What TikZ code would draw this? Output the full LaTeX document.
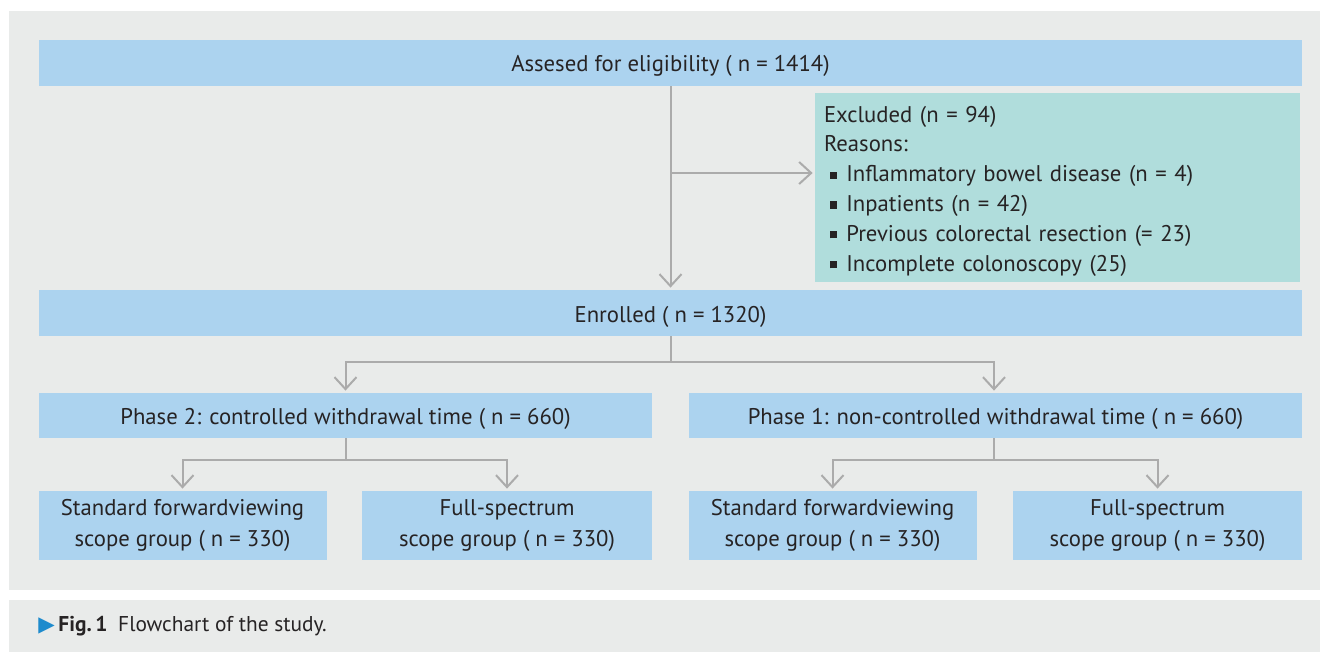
\documentclass[tikz,border=0pt]{standalone}
\usepackage{fontspec}
\setmainfont{PT Sans}
\newfontfamily\symfont{DejaVu Sans}
\usetikzlibrary{arrows.meta}
\definecolor{panelgray}{HTML}{E9EBEA}
\definecolor{boxblue}{HTML}{ACD3EF}
\definecolor{boxteal}{HTML}{B0DDDC}
\definecolor{linegray}{HTML}{ABABAB}
\definecolor{textdark}{HTML}{262324}
\definecolor{figblue}{HTML}{1E8BCD}
\newcommand{\bul}{\hspace*{3pt}\rule[0.12em]{0.32em}{0.32em}\hspace{0.4em}}
\tikzstyle{flowbox}=[
    fill=boxblue,
    inner sep=0pt,
    text=textdark,
    align=center,
    font=\fontsize{11.35}{15.5}\selectfont,
    execute at begin node={\rule{0pt}{11.5pt}},
]
\tikzstyle{flowarrow}=[
    draw=linegray,
    line width=1pt,
    -{Straight Barb[length=6pt,width=11pt]},
    shorten >=1pt,
]
\tikzstyle{flowline}=[draw=linegray, line width=1pt]

\begin{document}
\begin{tikzpicture}[x=0.5pt, y=-0.5pt]
        \useasboundingbox (0,0) rectangle (1320,652);
        \fill[panelgray] (9,11) rectangle (1320,590);
        \fill[panelgray] (9,600) rectangle (1320,652);
        % boxes
        \node[flowbox, minimum width=631.5pt, minimum height=23pt] (assessed) at (670.5,63) {Assesed for eligibility ( n = 1414)};
        \node[flowbox, fill=boxteal, align=left, text width=233.5pt, inner xsep=4.5pt, minimum height=94.5pt,
            font=\fontsize{11.35}{14.9}\selectfont] (excluded) at (1057.5,187.5) {Excluded (n = 94)\\
            Reasons:\\
            \bul Inflammatory bowel disease (n = 4)\\
            \bul Inpatients (n = 42)\\
            \bul Previous colorectal resection (= 23)\\
            \bul Incomplete colonoscopy (25)};
        \node[flowbox, minimum width=631.5pt, minimum height=23pt] (enrolled) at (670.5,313) {Enrolled ( n = 1320)};
        \node[flowbox, minimum width=306.5pt, minimum height=22.5pt] (phasetwo) at (345.5,415.5) {Phase 2: controlled withdrawal time ( n = 660)};
        \node[flowbox, minimum width=306.5pt, minimum height=22.5pt] (phaseone) at (995.5,415.5) {Phase 1: non-controlled withdrawal time ( n = 660)};
        \node[flowbox, minimum width=144pt, minimum height=34.5pt] (stdtwo) at (182.5,525.5) {Standard forwardviewing\\scope group ( n = 330)};
        \node[flowbox, minimum width=145pt, minimum height=34.5pt] (fulltwo) at (507,525.5) {Full-spectrum\\scope group ( n = 330)};
        \node[flowbox, minimum width=144pt, minimum height=34.5pt] (stdone) at (832.5,525.5) {Standard forwardviewing\\scope group ( n = 330)};
        \node[flowbox, minimum width=144.5pt, minimum height=34.5pt] (fullone) at (1157.5,525.5) {Full-spectrum\\scope group ( n = 330)};
        % connectors
        \coordinate (exclsplit) at (670.5,173);
        \coordinate (phsplit) at (670.5,362);
        \coordinate (twosplit) at (345.5,460);
        \coordinate (onesplit) at (994,460);
        \draw[flowarrow] (assessed) -- (enrolled);
        \draw[flowarrow] (exclsplit) -- (exclsplit -| excluded.west);
        \draw[flowline] (enrolled) -- (phsplit);
        \draw[flowarrow] (phsplit) -| (phasetwo);
        \draw[flowarrow] (phsplit) -| (onesplit |- phaseone.north);
        \draw[flowline] (onesplit |- phaseone.south) -- (onesplit);
        \draw[flowline] (phasetwo) -- (twosplit);
        \draw[flowarrow] (twosplit) -| (stdtwo);
        \draw[flowarrow] (twosplit) -| (fulltwo);
        \draw[flowarrow] (onesplit) -| (stdone);
        \draw[flowarrow] (onesplit) -| (fullone);
        % caption
        \node[anchor=west, inner sep=0pt, text=textdark, font=\fontsize{10.7}{12}\selectfont] (caption) at (38,626) {{\symfont\textcolor{figblue}{▶}}\,\textbf{Fig.\,1}\hspace{0.5em}Flowchart of the study.};
    \end{tikzpicture}
\end{document}
